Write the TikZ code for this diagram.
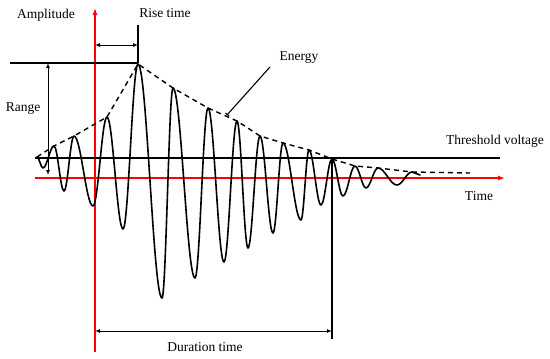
\documentclass[tikz,border=0pt]{standalone}
\usepackage{fontspec}
\setmainfont{Liberation Serif}
\usetikzlibrary{arrows.meta, positioning}

\begin{document}
\begin{tikzpicture}[x=1pt, y=-1pt, font=\fontsize{13.5}{16}\selectfont,
    ax/.style={red, line width=1.3pt, -{Latex[length=7pt,width=5pt]}},
    ln/.style={line width=1.1pt},
    dim/.style={line width=1pt, {Latex[length=5pt,width=4pt]}-{Latex[length=5pt,width=4pt]}},
    wave/.style={line width=1.6pt, line join=round, line cap=round},
    env/.style={dashed, dash pattern=on 5pt off 4pt, line width=1.4pt}]
    \useasboundingbox (0,0) rectangle (550,359);
    % axes
    \coordinate (vb) at (95,352);
    \coordinate (vt) at (95,8);
    \coordinate (hl) at (35,178);
    \coordinate (hr) at (505,178);
    \draw[ax] (vb) -- (vt);
    \draw[ax] (hl) -- (hr);
    % marker lines
    \coordinate (pk) at (138,63);
    \coordinate (rl) at (10,63);
    \coordinate (rt) at (138,25);
    \coordinate (th1) at (35,158);
    \coordinate (th2) at (500,158);
    \coordinate (de) at (332,158);
    \coordinate (db) at (332,339);
    \draw[ln] (rl) -- (pk);
    \draw[ln] (rt) -- (pk);
    \draw[ln] (th1) -- (th2);
    \draw[ln] (de) -- (db);
    % dimension arrows
    \coordinate (ra) at (48,63);
    \coordinate (rb) at (48,175);
    \coordinate (r1) at (95,45);
    \coordinate (r2) at (138,45);
    \coordinate (d1) at (95,331);
    \coordinate (d2) at (332,331);
    \draw[dim] (ra) -- (rb);
    \draw[dim] (r1) -- (r2);
    \draw[dim] (d1) -- (d2);
    % signal
    \draw[wave] (37,157)
      \foreach \x/\y [remember=\x as \px (initially 37), remember=\y as \py (initially 157)] in
        {43/168, 54/146, 64/191, 74/136, 93/206, 107/117, 123/229, 138/64, 162/298,
         173/88, 195/278, 208/108, 224/262, 237/121, 248/248, 260/136, 273/233,
         283/143, 301/220, 309/150, 321/205, 332/159, 343/196, 355/166, 366/188,
         378/168, 397/185, 412/172, 420/175}
      { cos ({(\px+\x)/2},{(\py+\y)/2}) sin (\x,\y) };
    \draw[env] (37,157) -- (54,146) -- (74,136) -- (107,117) -- (138,64) -- (173,88)
      -- (208,108) -- (237,121) -- (260,136) -- (283,143) -- (309,150) -- (332,159)
      -- (355,166) -- (378,168) -- (412,172) -- (470,173);
    % labels
    \node (amp) at (46,15) {Amplitude};
    \node (rise) at (165,13) {Rise time};
    \node (range) at (23,109) {Range};
    \node (energy) at (299,58) {Energy};
    \node (thr) at (495,141) {Threshold voltage};
    \node (time) at (479,196) {Time};
    \node (dur) at (205,347) {Duration time};
    \coordinate (e1) at (270,67);
    \coordinate (e2) at (227,115);
    \draw[ln, -{Bar[width=5pt]}] (e1) -- (e2);
\end{tikzpicture}
\end{document}
